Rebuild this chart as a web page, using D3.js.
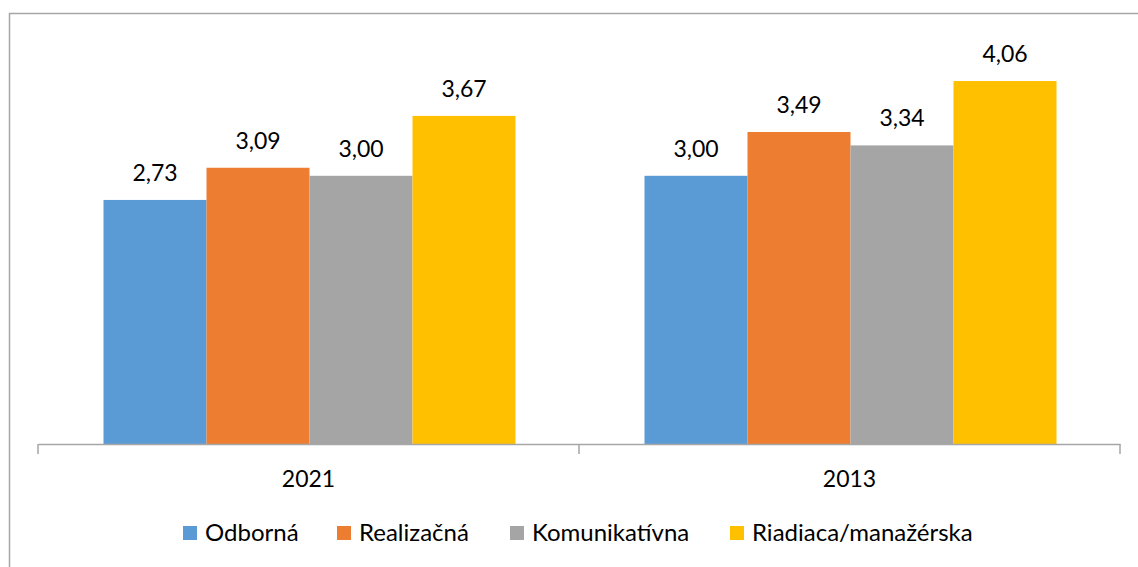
<!DOCTYPE html>
<html>
<head>
<meta charset="utf-8">
<script src="https://cdn.jsdelivr.net/npm/d3@7"></script>
<style>
  body { margin: 0; background: #fff; }
  text { font-family: Lato, "Open Sans", sans-serif; fill: #000; }
</style>
</head>
<body>
<svg id="chart"></svg>
<script>
const years = ['2021', '2013']
const seriesNames = ['Odborná', 'Realizačná', 'Komunikatívna', 'Riadiaca/manažérska']
const odborna = [2.73, 3.00]
const realizacna = [3.09, 3.49]
const komunikativna = [3.00, 3.34]
const riadiaca = [3.67, 4.06]
const colors = ['#5B9BD5', '#ED7D31', '#A5A5A5', '#FFC000']

const seriesValues = [odborna, realizacna, komunikativna, riadiaca]

const width = 1138, height = 567
const svg = d3.select('#chart').attr('width', width).attr('height', height)

// outer frame (only top and left edge fall inside the picture)
svg.append('rect')
    .attr('x', 9.5).attr('y', 13.5)
    .attr('width', 1140).attr('height', 570)
    .attr('fill', 'none')
    .attr('stroke', '#A6A6A6')
    .attr('stroke-width', 1.5)

const baseY = 444
const xScale = d3.scaleBand().domain(years).range([38, 1120])
const yScale = d3.scaleLinear().domain([0, 4.5]).range([baseY, baseY - 4.5 * 89.4])

const barW = 103
const innerScale = d3.scaleBand()
    .domain(d3.range(seriesNames.length))
    .range([0, barW * seriesNames.length])

const offset = (xScale.bandwidth() - barW * seriesNames.length) / 2 + 1

const rows = []
years.forEach((y, i) => {
    seriesValues.forEach((vals, s) => rows.push({year: y, s: s, v: vals[i]}))
})

svg.selectAll('.bar')
    .data(rows)
    .join('rect')
        .attr('class', 'bar')
        .attr('x', d => xScale(d.year) + offset + innerScale(d.s))
        .attr('width', innerScale.bandwidth())
        .attr('y', d => yScale(d.v))
        .attr('height', d => baseY - yScale(d.v))
        .attr('fill', d => colors[d.s])

svg.selectAll('.label')
    .data(rows)
    .join('text')
        .attr('class', 'label')
        .attr('x', d => xScale(d.year) + offset + innerScale(d.s) + innerScale.bandwidth() / 2)
        .attr('y', d => yScale(d.v) - 19)
        .attr('text-anchor', 'middle')
        .attr('font-size', 23)
        .text(d => d3.format('.2f')(d.v).replace('.', ','))

// category axis
const xAxis = d3.axisBottom(xScale).tickSize(0).tickFormat('')
const axisG = svg.append('g').attr('transform', `translate(0,${baseY})`)
axisG.call(xAxis)
axisG.select('.domain').attr('stroke', '#A6A6A6').attr('stroke-width', 1.5)
const tickXs = [38, ...years.map(y => xScale(y) + xScale.bandwidth())]
axisG.selectAll('.sep')
    .data(tickXs)
    .join('line')
        .attr('class', 'sep')
        .attr('x1', d => d).attr('x2', d => d)
        .attr('y1', 0).attr('y2', 10)
        .attr('stroke', '#A6A6A6').attr('stroke-width', 1.5)

svg.selectAll('.cat')
    .data(years)
    .join('text')
        .attr('class', 'cat')
        .attr('x', d => xScale(d) + xScale.bandwidth() / 2)
        .attr('y', 487)
        .attr('text-anchor', 'middle')
        .attr('font-size', 23)
        .text(d => d)

// legend
const legendX = [183, 337, 510, 730]
const legend = svg.selectAll('.legend')
    .data(seriesNames)
    .join('g')
        .attr('class', 'legend')
        .attr('transform', (d, i) => `translate(${legendX[i]},526)`)
legend.append('rect')
    .attr('width', 14).attr('height', 14)
    .attr('fill', (d, i) => colors[i])
legend.append('text')
    .attr('x', 22).attr('y', 15)
    .attr('font-size', 24)
    .text(d => d)
</script>
</body>
</html>
